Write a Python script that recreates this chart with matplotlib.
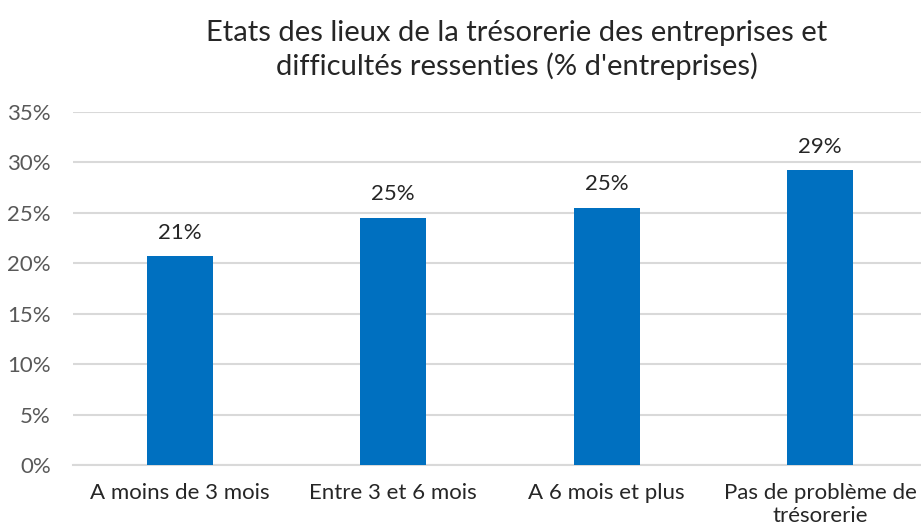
import matplotlib.pyplot as plt
from matplotlib.ticker import FuncFormatter

categories = ['A moins de 3 mois', 'Entre 3 et 6 mois', 'A 6 mois et plus',
              'Pas de problème de\ntrésorerie']
values = [20.7, 24.5, 25.5, 29.2]
labels = ['21%', '25%', '25%', '29%']

plt.rcParams['font.family'] = ['Lato', 'DejaVu Sans']

fig = plt.figure(figsize=(9.21, 5.32), dpi=100)
# plot area runs slightly past the right edge, as in the original
ax = fig.add_axes([73 / 921, 67 / 532, 854 / 921, 353 / 532])

x = range(len(categories))
bars = ax.bar(x, values, width=0.31, color='#0070C0', zorder=3)
for rect, lab in zip(bars, labels):
    ax.annotate(lab, (rect.get_x() + rect.get_width() / 2, rect.get_height()),
                xytext=(0, 17), textcoords='offset points',
                ha='center', va='center', fontsize=16, color='#262626')

ax.set_ylim(0, 35)
ax.set_xlim(-0.5, 3.5)
ax.set_yticks(range(0, 36, 5))
ax.yaxis.set_major_formatter(FuncFormatter(lambda v, p: f'{int(v)}%'))
ax.set_xticks(list(x))
ax.set_xticklabels(categories, fontsize=16, color='#262626', linespacing=1.2)
ax.tick_params(axis='y', labelsize=16, labelcolor='#595959', length=0, pad=16)
ax.tick_params(axis='x', length=0, pad=13)
ax.grid(axis='y', color='#d9d9d9', linewidth=1.5, zorder=0)
for s in ['top', 'right', 'left']:
    ax.spines[s].set_visible(False)
ax.spines['bottom'].set_color('#d9d9d9')
ax.spines['bottom'].set_linewidth(1.5)

fig.text(517 / 921, 1 - 50 / 532,
         "Etats des lieux de la trésorerie des entreprises et\ndifficultés ressenties (% d'entreprises)",
         ha='center', va='center', fontsize=21, color='#262626', linespacing=1.25)

fig.savefig('out.png', dpi=100)
